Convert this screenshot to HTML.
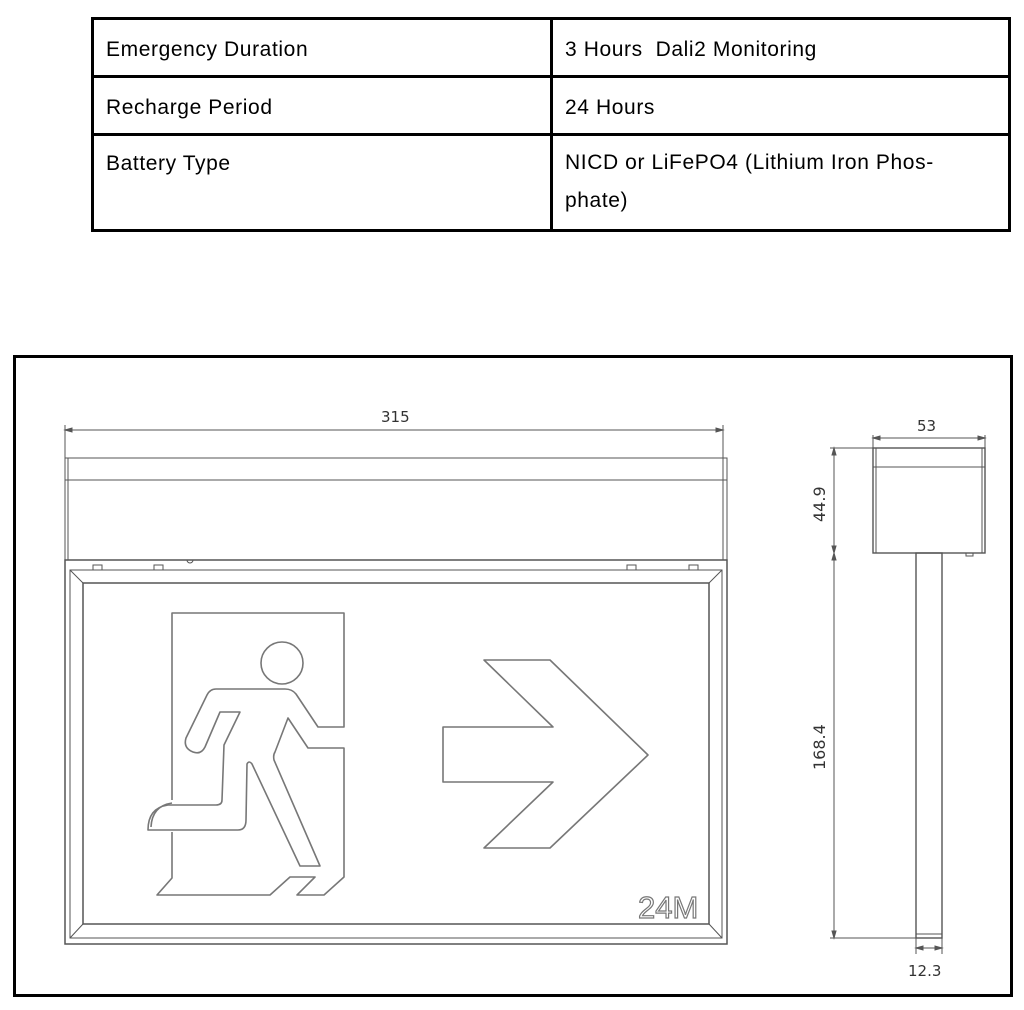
<!DOCTYPE html>
<html><head><style>
body{margin:0;background:#fff;width:1024px;height:1010px;position:relative;overflow:hidden;font-family:"Liberation Sans",sans-serif}
table{position:absolute;left:91px;top:17px;width:920px;border-collapse:collapse}
td{border:3px solid #000;font-size:21px;letter-spacing:0.6px;padding:0 12px;vertical-align:top;color:#000}
</style></head><body>
<table>
<tr style="height:58px"><td style="width:432px;padding-top:18px">Emergency Duration</td><td style="padding-top:18px">3 Hours&nbsp; Dali2 Monitoring</td></tr>
<tr style="height:58px"><td style="padding-top:18px">Recharge Period</td><td style="padding-top:18px">24 Hours</td></tr>
<tr style="height:96px"><td style="padding-top:16px">Battery Type</td><td style="padding-top:16px;line-height:38px"><div style="margin-top:-8px">NICD or LiFePO4 (Lithium Iron Phos-<br>phate)</div></td></tr>
</table>
<svg width="1024" height="1010" style="position:absolute;left:0;top:0" xmlns="http://www.w3.org/2000/svg">
<rect x="14.5" y="356.5" width="997" height="639" fill="none" stroke="#000" stroke-width="3"/>
<g fill="none" stroke="#555" stroke-width="1">
<line x1="65" y1="425" x2="65" y2="458"/><line x1="723" y1="425" x2="723" y2="458"/>
<line x1="65" y1="430" x2="723" y2="430"/>
<path d="M65 430l7-2v4zM723 430l-7-2v4z" fill="#555"/>
<rect x="65" y="458" width="662" height="102"/>
<line x1="65" y1="480" x2="727" y2="480"/>
<line x1="68" y1="458" x2="68" y2="560"/><line x1="723" y1="458" x2="723" y2="560"/>
<rect x="65" y="560" width="662" height="384" stroke-width="1.5"/>
<rect x="70" y="570" width="652" height="368"/>
<rect x="83" y="583" width="626" height="341" stroke-width="1.5"/>
<line x1="70" y1="570" x2="83" y2="583"/><line x1="722" y1="570" x2="709" y2="583"/>
<line x1="70" y1="938" x2="83" y2="924"/><line x1="722" y1="938" x2="709" y2="924"/>
<rect x="93" y="565" width="9" height="5"/><rect x="154" y="565" width="9" height="5"/>
<rect x="627" y="565" width="9" height="5"/><rect x="689" y="565" width="9" height="5"/>
<path d="M187 560a3 3 0 0 0 6 0"/>
</g>
<g fill="none" stroke="#777" stroke-width="1.6" stroke-linejoin="round">
<path d="M484 660H550L648 755L550 848H484L553 782H443V727H553Z"/>
<path d="M172 800V613H344V727H318L296 694Q292 689 285 689H216Q210 689 207 695L186 738Q183 748 193 752Q201 755 205 747L220 712H240L224 745L222 800Q222 805 216 805H168Q148 808 148 830H238Q246 830 246 820L247 764Q249 760 252 764L300 866H320L274 760Q273 755 275 752L288 718L308 748H344V877L324 895H297L315 877H290L270 895H157L172 878V832"/>
<path d="M172 803Q152 806 151 827"/>
<circle cx="282" cy="663" r="21"/>
</g>
<text x="638" y="918" font-size="31" fill="#fff" stroke="#777" stroke-width="1.2" font-family="Liberation Sans,sans-serif">24M</text>
<text x="381" y="422" font-size="15" fill="#333" font-family="DejaVu Sans,sans-serif">315</text>
<g fill="none" stroke="#555" stroke-width="1">
<rect x="873" y="448" width="112" height="105" stroke-width="1.4"/>
<line x1="873" y1="467" x2="985" y2="467"/>
<line x1="876" y1="448" x2="876" y2="553"/><line x1="982" y1="448" x2="982" y2="553"/>
<rect x="916" y="553" width="26" height="385" stroke-width="1.4"/>
<line x1="916" y1="934" x2="942" y2="934"/>
<rect x="966" y="553" width="7" height="3"/>
<line x1="873" y1="435" x2="873" y2="448"/><line x1="985" y1="435" x2="985" y2="448"/>
<line x1="873" y1="438" x2="985" y2="438"/>
<path d="M873 438l7-2v4zM985 438l-7-2v4z" fill="#555"/>
<line x1="830" y1="448" x2="873" y2="448"/><line x1="830" y1="938" x2="916" y2="938"/>
<line x1="834" y1="448" x2="834" y2="938"/>
<path d="M834 448l-2 7h4zM834 553l-2-7h4zM834 553l-2 7h4zM834 938l-2-7h4z" fill="#555"/>
<line x1="916" y1="938" x2="916" y2="954"/><line x1="942" y1="938" x2="942" y2="954"/>
<line x1="916" y1="948" x2="942" y2="948"/>
<path d="M916 948l7-2v4zM942 948l-7-2v4z" fill="#555"/>
</g>
<text x="917" y="431" font-size="15" fill="#333" font-family="DejaVu Sans,sans-serif">53</text>
<text x="908" y="976" font-size="15" fill="#333" font-family="DejaVu Sans,sans-serif">12.3</text>
<text transform="translate(825,522) rotate(-90)" font-size="16" fill="#333" font-family="DejaVu Sans,sans-serif">44.9</text>
<text transform="translate(825,770) rotate(-90)" font-size="16" fill="#333" font-family="DejaVu Sans,sans-serif">168.4</text>
</svg>
</body></html>
